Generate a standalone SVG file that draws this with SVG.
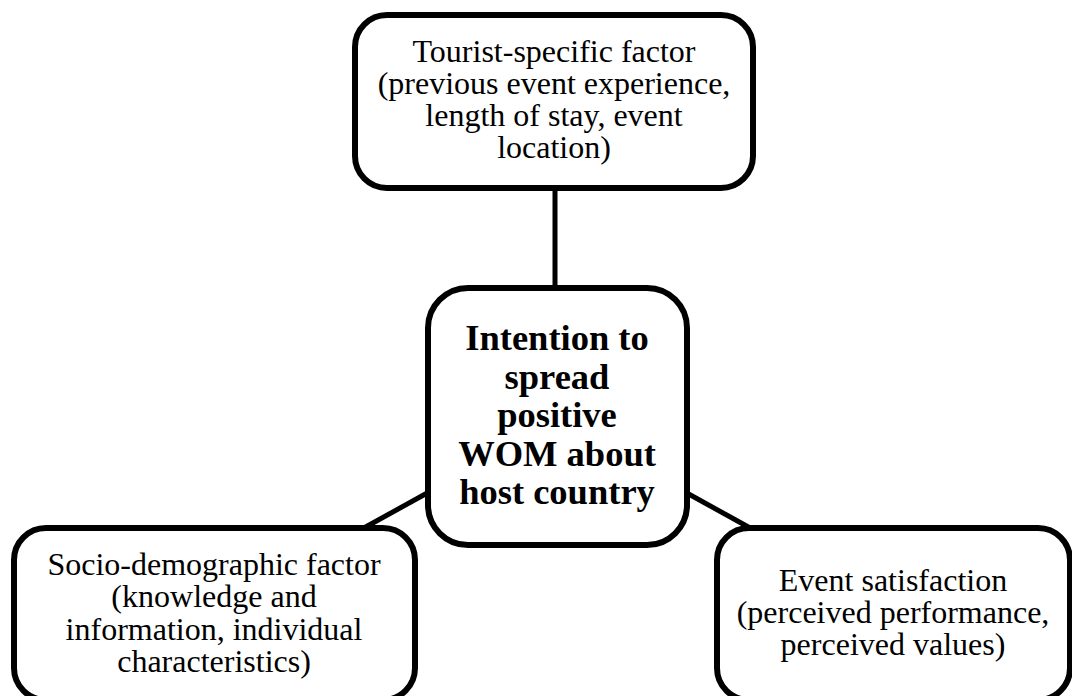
<svg xmlns="http://www.w3.org/2000/svg" width="1072" height="696" viewBox="0 0 1072 696">
<style>
.box{fill:#fff;stroke:#000;stroke-width:6}
.con{stroke:#000;stroke-width:5;fill:none}
.t{font-family:"Liberation Serif","Times New Roman",serif;font-size:32px;fill:#000;text-anchor:middle}
.b{font-family:"Liberation Serif","Times New Roman",serif;font-size:36.5px;font-weight:bold;fill:#000;text-anchor:middle}
</style>
<rect width="1072" height="696" fill="#fff"/>
<g id="connectors">
<line class="con" x1="555" y1="188" x2="555" y2="290"/>
<line class="con" x1="429" y1="492" x2="362" y2="529"/>
<line class="con" x1="685" y1="492" x2="752" y2="529"/>
</g>
<g id="tourist">
<rect class="box" x="355" y="15" width="398" height="173" rx="32"/>
<text class="t" x="554" y="62">Tourist-specific factor</text>
<text class="t" x="554" y="94">(previous event experience,</text>
<text class="t" x="554" y="126">length of stay, event</text>
<text class="t" x="554" y="158">location)</text>
</g>
<g id="intention">
<rect class="box" x="428" y="288" width="259" height="257" rx="40"/>
<text class="b" x="557" y="350">Intention to</text>
<text class="b" x="557" y="389">spread</text>
<text class="b" x="557" y="427">positive</text>
<text class="b" x="557" y="466">WOM about</text>
<text class="b" x="557" y="504">host country</text>
</g>
<g id="socio">
<rect class="box" x="14" y="528" width="401" height="172" rx="32"/>
<text class="t" x="214" y="575">Socio-demographic factor</text>
<text class="t" x="214" y="607">(knowledge and</text>
<text class="t" x="214" y="640">information, individual</text>
<text class="t" x="214" y="672">characteristics)</text>
</g>
<g id="satisfaction">
<rect class="box" x="717" y="528" width="353" height="172" rx="32"/>
<text class="t" x="893" y="591">Event satisfaction</text>
<text class="t" x="893" y="623">(perceived performance,</text>
<text class="t" x="893" y="655">perceived values)</text>
</g>
</svg>
